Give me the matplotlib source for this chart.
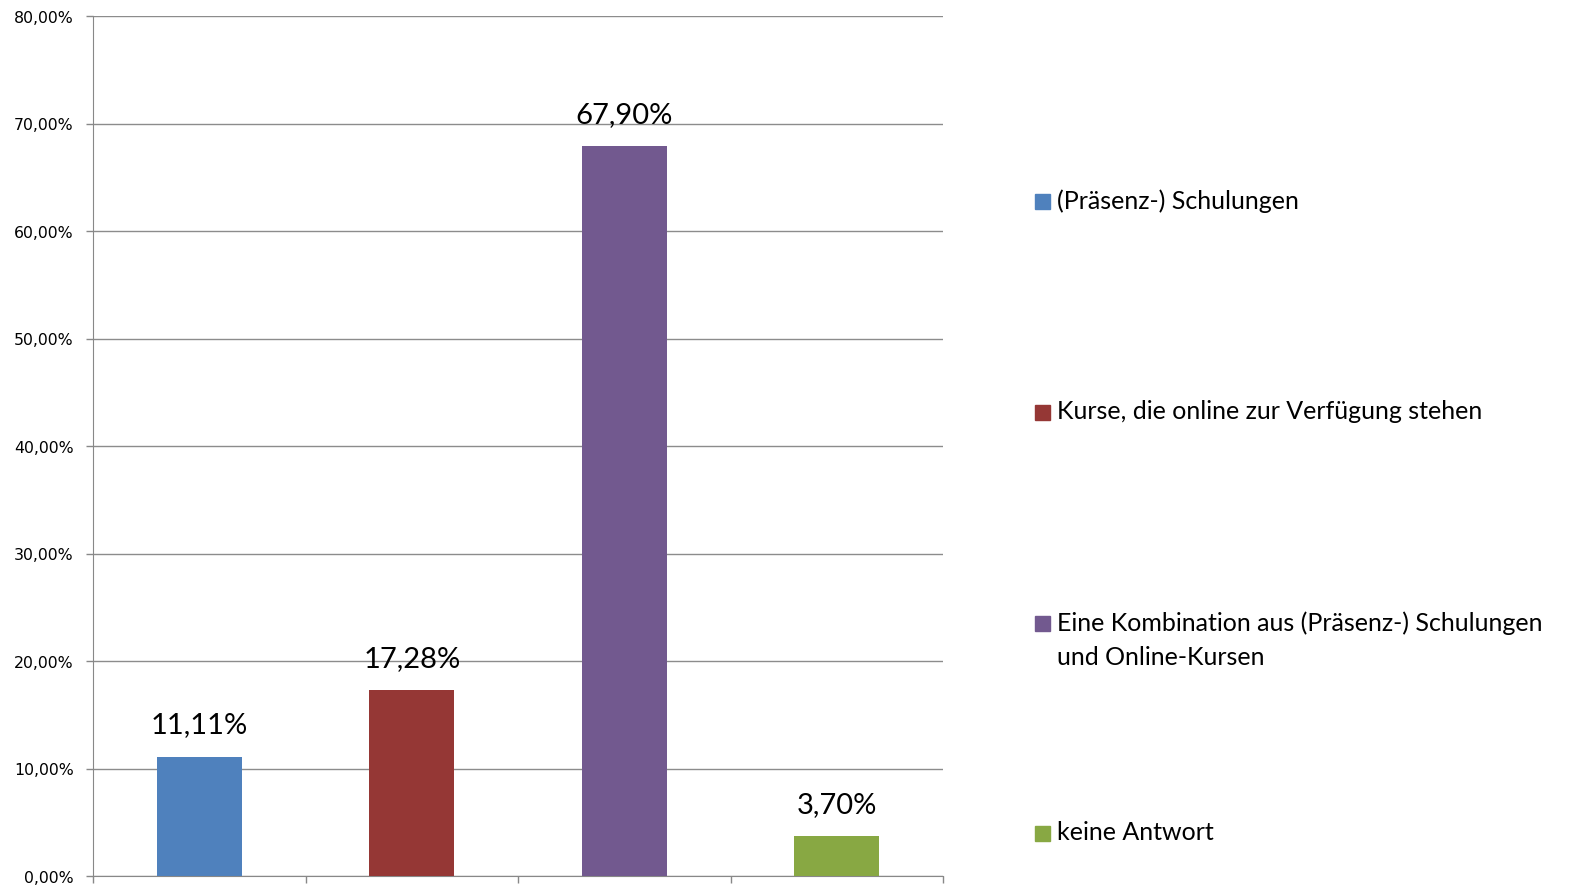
import matplotlib
matplotlib.use("Agg")
import matplotlib.pyplot as plt
from matplotlib.patches import Rectangle

# Daten
kategorien = ["(Präsenz-) Schulungen",
              "Kurse, die online zur Verfügung stehen",
              "Eine Kombination aus (Präsenz-) Schulungen\nund Online-Kursen",
              "keine Antwort"]
werte = [11.11, 17.28, 67.90, 3.70]
farben = ["#4F81BD", "#953735", "#72598F", "#88A843"]
y_ticks = [0, 10, 20, 30, 40, 50, 60, 70, 80]

fig = plt.figure(figsize=(15.72, 8.87), dpi=100)
ax = fig.add_axes([93/1572, 1 - 877/887, 850/1572, 860/887])

x = list(range(len(werte)))
ax.bar(x, werte, width=0.4, color=farben, zorder=3)

ax.set_xlim(-0.5, len(werte) - 0.5)
ax.set_ylim(0, 80)
ax.set_yticks(y_ticks)
ax.set_yticklabels([f"{v:.2f}%".replace(".", ",") for v in y_ticks],
                   fontsize=11.3, family="DejaVu Sans")
ax.set_xticks([i - 0.5 for i in range(len(werte) + 1)])
ax.set_xticklabels([])
ax.tick_params(axis="both", color="#888888", length=5, width=1)
ax.tick_params(axis="y", pad=9)
ax.grid(axis="y", color="#8c8c8c", linewidth=1, zorder=0)
for s in ["top", "right"]:
    ax.spines[s].set_visible(False)
for s in ["left", "bottom"]:
    ax.spines[s].set_color("#888888")

# Werte über den Balken
for i, v in enumerate(werte):
    ax.annotate(f"{v:.2f}%".replace(".", ","), (i, v), xytext=(0, 14),
                textcoords="offset points", ha="center", va="bottom",
                fontsize=21, family="Lato")

# Legende (manuell wie in Excel), Marker auf Höhe der ersten Zeile
leg_y = [203, 414, 625, 835]
for name, farbe, yy in zip(kategorien, farben, leg_y):
    yf = 1 - yy / 887
    fig.patches.append(Rectangle((1035/1572, yf - 7/887), 15/1572, 15/887,
                                 transform=fig.transFigure, color=farbe))
    fig.text(1057/1572, 1 - (yy - 14) / 887, name, ha="left", va="top",
             fontsize=18, family="Lato", linespacing=1.6)

fig.savefig("out.png", dpi=100)
